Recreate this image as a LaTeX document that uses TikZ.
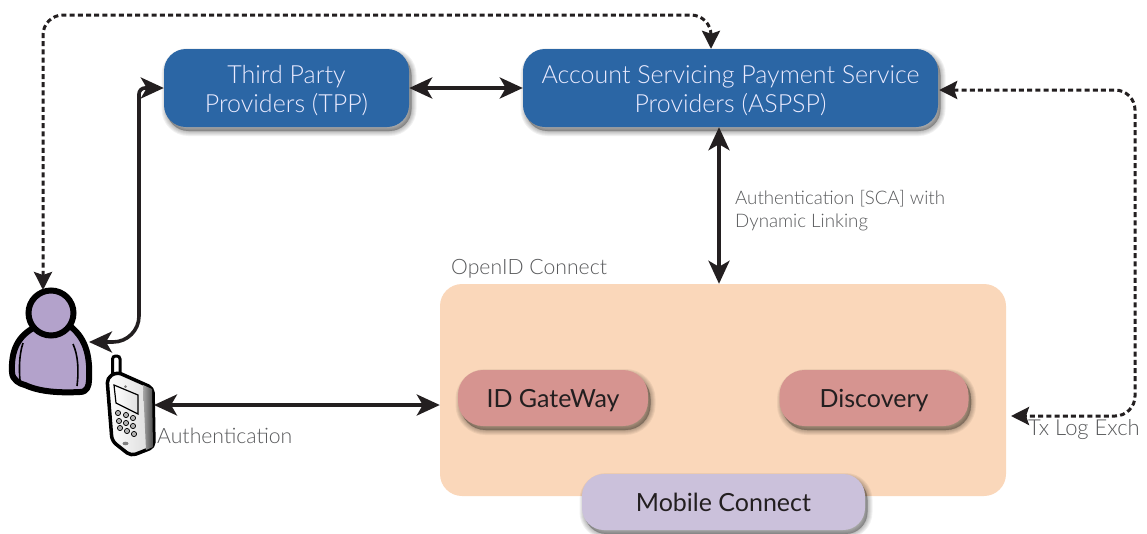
\documentclass[tikz,border=0pt]{standalone}
\usepackage{fontspec}
\setmainfont{Lato Light}
\newfontfamily\regfont{Lato}
\usetikzlibrary{arrows.meta,calc}
\definecolor{bluebox}{HTML}{2B66A5}
\definecolor{peach}{HTML}{FAD7BA}
\definecolor{rose}{HTML}{D69490}
\definecolor{lilac}{HTML}{CBC1DB}
\definecolor{ink}{HTML}{231F20}
\definecolor{graytext}{HTML}{58595B}
\definecolor{personfill}{HTML}{B3A2CB}
\tikzset{
  shadowlayer/.style={preaction={draw=black,fill=black,draw opacity=.055,fill opacity=.055,line width=#1,transform canvas={xshift=2.5pt,yshift=-4pt}}},
  softshadow/.style={shadowlayer=10pt,shadowlayer=8pt,shadowlayer=6pt,shadowlayer=4pt,shadowlayer=2pt,shadowlayer=.5pt},
  bluenode/.style={fill=bluebox,rounded corners=22pt,minimum height=78pt,text=white!92!blue,align=center,font=\fontsize{25}{28.5}\selectfont,softshadow,inner sep=0pt},
  rosenode/.style={fill=rose,rounded corners=25pt,minimum width=190pt,minimum height=56pt,text=ink,font=\regfont\fontsize{25}{30}\selectfont,softshadow,inner sep=0pt},
  lilacnode/.style={fill=lilac,rounded corners=22pt,minimum width=283pt,minimum height=56pt,text=ink,font=\regfont\fontsize{25}{30}\selectfont,softshadow,inner sep=0pt},
  grouphbox/.style={fill=peach,rounded corners=22pt,minimum width=566pt,minimum height=212pt,inner sep=0pt},
  labeltext/.style={text=graytext,anchor=west,inner sep=0pt,font=\fontsize{21.2}{24}\selectfont},
  smalltext/.style={text=graytext,anchor=west,inner sep=0pt,align=left,font=\fontsize{18.7}{23}\selectfont},
  solidlink/.style={line width=3.6pt,draw=ink,{Stealth[length=23pt,width=21pt,inset=6pt]}-{Stealth[length=23pt,width=21pt,inset=6pt]}},
  dashlink/.style={line width=3pt,draw=ink,dash pattern=on 5pt off 3.2pt,{Stealth[length=18pt,width=18pt,inset=3pt]}-{Stealth[length=18pt,width=18pt,inset=3pt]}},
}
\begin{document}
\begin{tikzpicture}[x=1pt,y=-1pt]
\useasboundingbox (0,0) rectangle (1147,533);

% boxes
\node[grouphbox] (openid) at (723,390) {};
\node[bluenode,minimum width=245pt] (tpp) at (286.5,88) {\rule{0pt}{23pt}Third Party\\Providers (TPP)};
\node[bluenode,minimum width=415pt] (aspsp) at (730.5,88) {\rule{0pt}{23pt}Account Servicing Payment Service\\Providers (ASPSP)};
\node[rosenode] (gateway) at (553,398) {\rule{0pt}{24pt}ID GateWay};
\node[rosenode,minimum width=189pt] (discovery) at (874,398) {\rule{0pt}{24pt}Discovery};
\node[lilacnode] (mobile) at (723.5,502) {Mobile Connect};

% labels
\node[labeltext] (openidlabel) at (451,269) {OpenID Connect};
\node[labeltext] (authlabel) at (157,436) {Authentication};
\node[labeltext,font=\fontsize{22}{24}\selectfont] (txlabel) at (1028,430) {Tx Log Exch};
\node[smalltext] (scalabel) at (735,211) {Authentication [SCA] with\\Dynamic Linking};

% person
\path[fill=personfill,draw=black,line width=6pt,line join=round]
  (35,327) .. controls (18,336) and (11,350) .. (12,372)
  .. controls (12,380) and (20,384) .. (25,385)
  .. controls (40,392) and (60,393) .. (80,392)
  .. controls (87,392) and (89,386) .. (89,380)
  .. controls (90,360) and (88,340) .. (70,326)
  .. controls (60,334) and (45,334) .. (35,327) -- cycle;
\path[draw=black,line width=1.6pt] (23,343) .. controls (19,355) and (19,370) .. (20,380);
\path[draw=black,line width=1.6pt] (73,344) .. controls (78,355) and (79,370) .. (77,386);
\node[circle,fill=personfill,draw=black,line width=6pt,minimum size=45pt,inner sep=0pt] (head) at (51,313) {};
\coordinate (personright) at (89,342);
\coordinate (persontop) at (43,290);

% phone
\path[fill=white,draw=black,line width=3pt,rounded corners=3pt] (112.5,356) -- (120,356) -- (120,376) -- (112.5,376) -- cycle;
\path[left color=white,right color=black!15,draw=black,line width=3.5pt,rounded corners=5pt,line join=round]
  (107,378) -- (117,372) -- (153,388) -- (154,447) -- (131,456) -- (112,441) -- cycle;
\path[left color=black!35,right color=black!70] (143,385) -- (152,389) -- (153,447) -- (146,450) -- cycle;
\path[left color=white,right color=black!12,draw=black,line width=1.2pt] (114,385) -- (138,395) -- (138,414) -- (116,403) -- cycle;
\foreach \dx/\dy in {0/0,8/2,15/5,1/8,8/10,15/13,2/15,9/18,16/21}
  \path[fill=black!30,draw=black,line width=.7pt] (118+\dx,413+\dy) circle (2.6pt);
\path[fill=black!50] (125.5,443.5) ellipse (3pt and 1.8pt);
\path[fill=black!50] (125.5,386.5) circle (1.5pt);
\coordinate (phoneright) at (154,405);

% connectors
\draw[solidlink] (tpp.east) -- (aspsp.west);
\draw[solidlink] (aspsp.south -| 719,0) -- (openid.north -| 719,0);
\draw[solidlink] (phoneright) -- (openid.west |- phoneright);
\coordinate (spine) at (139,342);
\draw[solidlink,rounded corners=6pt] (tpp.west) -- (139,88) [rounded corners=26pt] -- (spine) -- (personright);
\coordinate (topright) at (711,15);
\coordinate (topleft) at (43,15);
\draw[dashlink,rounded corners=20pt] (persontop) -- (topleft) -- (topright) -- (aspsp.north -| topright);
\coordinate (txend) at (1011,416);
\coordinate (rightup) at (1135,90);
\coordinate (rightdown) at (1135,416);
\draw[dashlink,rounded corners=20pt] ($(aspsp.east)+(1,2)$) -- (rightup) -- (rightdown) -- (txend);
\end{tikzpicture}
\end{document}
